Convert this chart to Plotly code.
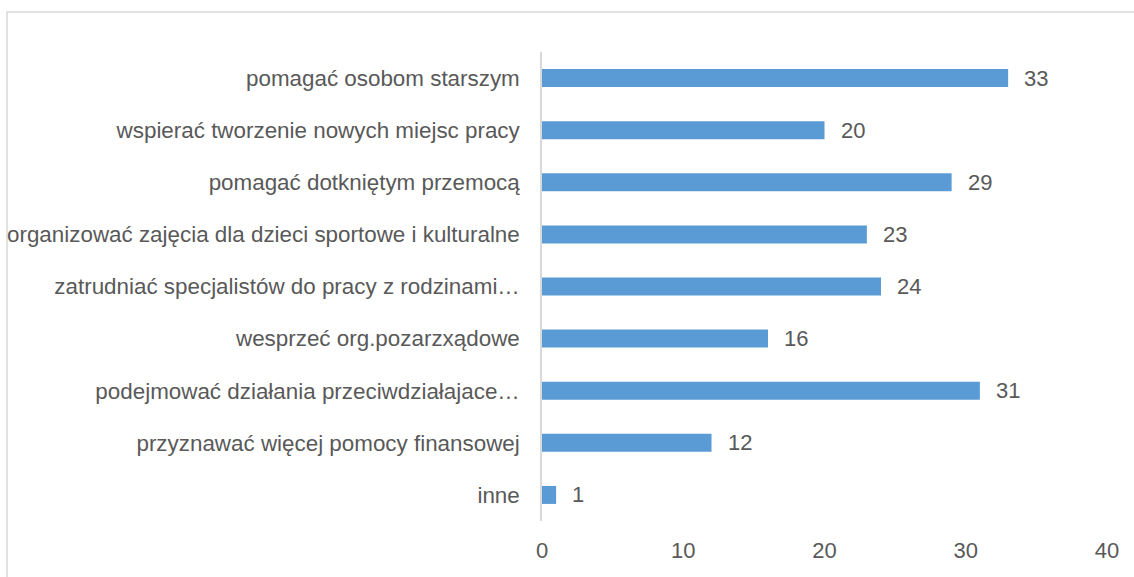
import plotly.graph_objects as go

categories = [
    "pomagać osobom starszym",
    "wspierać tworzenie nowych miejsc pracy",
    "pomagać dotkniętym przemocą",
    "organizować zajęcia dla dzieci sportowe i kulturalne",
    "zatrudniać specjalistów do pracy z rodzinami…",
    "wesprzeć org.pozarzxądowe",
    "podejmować działania przeciwdziałajace…",
    "przyznawać więcej pomocy finansowej",
    "inne",
]
values = [33, 20, 29, 23, 24, 16, 31, 12, 1]
x_ticks = [0, 10, 20, 30, 40]

FONT = "Liberation Sans"
TXT = "#595959"
BAR = "#5B9BD5"
GRID = "#D9D9D9"

fig = go.Figure(
    go.Bar(
        x=values,
        y=categories,
        orientation="h",
        marker=dict(color=BAR, line=dict(width=0)),
        hoverinfo="x+y",
    )
)

for c, v in zip(categories, values):
    fig.add_annotation(
        x=v, y=c, xref="x", yref="y",
        text=str(v), showarrow=False,
        xanchor="left", yanchor="middle", xshift=14,
        font=dict(family=FONT, size=22, color=TXT),
    )

W, H = 1134, 577
ml, mr, mt, mb = 542, 27, 52, 56
pw = W - ml - mr
ph = H - mt - mb
# outer chart-area border (top-left corner at page pixel 7, 12)
fig.add_shape(
    type="rect", xref="paper", yref="paper",
    x0=(7 - ml) / pw, x1=(W + 20 - ml) / pw,
    y0=-(mb + 20) / ph, y1=(H - mb - 12) / ph,
    line=dict(color=GRID, width=1.5), fillcolor="rgba(0,0,0,0)", layer="below",
)

fig.update_layout(
    width=W, height=H,
    margin=dict(l=ml, r=mr, t=mt, b=mb, pad=0, autoexpand=False),
    paper_bgcolor="white", plot_bgcolor="white",
    bargap=0.655,
    showlegend=False,
    font=dict(family=FONT, size=22, color=TXT),
    xaxis=dict(
        range=[0, 40], tickvals=x_ticks, showgrid=False, zeroline=False,
        showline=False, ticks="", ticklabelstandoff=14, automargin=False,
        tickfont=dict(family=FONT, size=22, color=TXT),
    ),
    yaxis=dict(
        autorange="reversed", showgrid=False, zeroline=False,
        showline=True, linecolor=GRID, linewidth=1.5, ticks="",
        ticklabelstandoff=16, automargin=False,
        tickfont=dict(family=FONT, size=22.4, color=TXT),
    ),
)

fig.write_html(
    "out.html",
    config={"displayModeBar": False},
    post_script="document.body.style.margin='0';document.body.style.overflow='hidden';",
)
